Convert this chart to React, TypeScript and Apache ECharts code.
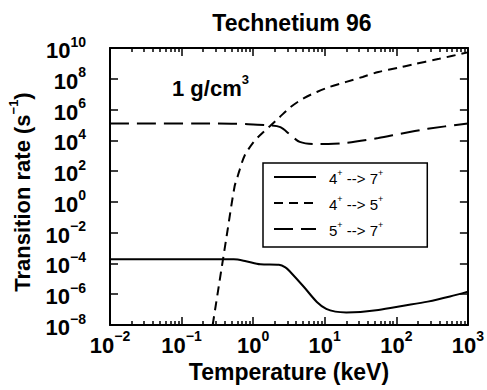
import React, { useEffect, useRef } from 'react';
import * as echarts from 'echarts';

const FONT = '"Liberation Sans", Arial, Helvetica, sans-serif';

// 4+ --> 7+ (solid)
const temp47 = [0.01, 0.537, 0.794, 1.26, 2.29, 2.82, 3.31, 5.13, 7.76, 10.5, 14.1, 20, 31.6, 56.2, 126, 275, 562, 1000];
const rate47 = [1.86e-4, 1.86e-4, 1.41e-4, 8.9e-5, 8.3e-5, 5.6e-5, 2.8e-5, 2.95e-6, 3.16e-7, 1.12e-7, 7.4e-8, 6.6e-8, 7.1e-8, 9.5e-8, 1.78e-7, 3.3e-7, 7.1e-7, 1.48e-6];

// 4+ --> 5+ (short dashes)
const temp45 = [0.272, 0.339, 0.427, 0.55, 0.603, 0.646, 0.759, 1.0, 1.29, 1.74, 2.34, 3.31, 5.13, 7.76, 11.7, 20, 33.9, 56.2, 107, 166, 398, 1000];
const rate45 = [1e-8, 6.8e-6, 6.3e-3, 10, 40, 117, 1.0e3, 7.1e3, 2.5e4, 8.9e4, 3.2e5, 1.41e6, 5.6e6, 1.38e7, 2.95e7, 6.3e7, 1.32e8, 2.75e8, 5.2e8, 8.3e8, 2.0e9, 5.2e9];

// 5+ --> 7+ (long dashes)
const temp57 = [0.01, 0.316, 0.851, 1.58, 2.4, 3.31, 4.47, 7.08, 11.2, 20, 56.2, 120, 275, 1000];
const rate57 = [1.26e5, 1.26e5, 1.12e5, 9.6e4, 7.2e4, 2.24e4, 7.9e3, 5.75e3, 5.75e3, 6.8e3, 1.41e4, 2.8e4, 5.6e4, 1.26e5];

const seriesNames = ['4+ --> 7+', '4+ --> 5+', '5+ --> 7+'];
const seriesDash: any[] = ['solid', [9, 6], [19, 8]];

const xDecades = [0.01, 0.1, 1, 10, 100, 1000];
const minorMultipliers = [2, 3, 4, 5, 6, 7, 8, 9];
const xMinor = xDecades.slice(0, -1).flatMap((d) => minorMultipliers.map((m) => m * d));

const titleText = 'Technetium 96';
const xName = 'Temperature (keV)';
const densityText = '1 g/cm';

const pair = (xs: number[], ys: number[]) => xs.map((x, i) => [x, ys[i]]);

const powLabel = (v: number) => {
  const e = Math.round(Math.log10(v));
  const s = e < 0 ? '\u2212' + -e : String(e);
  return `{b|10}{s|${s}}`;
};

const tickRich = {
  b: { fontFamily: FONT, fontSize: 22, fontWeight: 'bold', color: '#000', lineHeight: 27, verticalAlign: 'bottom' },
  s: { fontFamily: FONT, fontSize: 14, fontWeight: 'bold', color: '#000', lineHeight: 14, verticalAlign: 'top' },
};

const textRich = {
  b: { fontFamily: FONT, fontSize: 22, fontWeight: 'bold', color: '#000', lineHeight: 27, verticalAlign: 'bottom' },
  s: { fontFamily: FONT, fontSize: 13, fontWeight: 'bold', color: '#000', lineHeight: 13, verticalAlign: 'top' },
};

const legendLabel = (name: string) => {
  const parts = name.split('+');
  let out = '';
  parts.forEach((p, i) => {
    if (p.length) out += `{${i === 0 ? 'f' : 'n'}|${p}}`;
    if (i < parts.length - 1) out += '{s|+}';
  });
  return out;
};

const blk = '#000';
const axisLine = { show: true, lineStyle: { color: blk, width: 2 } };
const majorTick = { show: true, inside: true, length: 8, lineStyle: { color: blk, width: 1.5 } };
const minorTickStyle = { show: true, inside: true, length: 4, customValues: xMinor, lineStyle: { color: blk, width: 1.5 } };

const xBase = { type: 'log', logBase: 10, min: 0.01, max: 1000, interval: 1, gridIndex: 0, splitLine: { show: false } };
const yBase = { type: 'log', logBase: 10, min: 1e-8, max: 1e10, interval: 2, gridIndex: 0, splitLine: { show: false } };

const option: any = {
  animation: false,
  backgroundColor: '#fff',
  grid: { left: 110, right: 13, top: 48, bottom: 65 },
  xAxis: [
    {
      ...xBase,
      position: 'bottom',
      axisLine,
      axisTick: majorTick,
      axisLabel: { formatter: powLabel, margin: 4, rich: tickRich, hideOverlap: false },
      name: xName,
      nameLocation: 'middle',
      nameGap: 20,
      nameTextStyle: { fontFamily: FONT, fontSize: 23, fontWeight: 'bold', color: blk },
    },
    { ...xBase, position: 'bottom', axisLine: { show: false }, axisTick: minorTickStyle, axisLabel: { show: false } },
    { ...xBase, position: 'top', axisLine, axisTick: majorTick, axisLabel: { show: false } },
    { ...xBase, position: 'top', axisLine: { show: false }, axisTick: minorTickStyle, axisLabel: { show: false } },
  ],
  yAxis: [
    {
      ...yBase,
      position: 'left',
      axisLine,
      axisTick: majorTick,
      axisLabel: { formatter: powLabel, margin: 24, rich: tickRich, hideOverlap: false },
    },
    { ...yBase, position: 'right', axisLine, axisTick: majorTick, axisLabel: { show: false } },
  ],
  legend: {
    orient: 'vertical',
    left: 263,
    top: 163,
    data: seriesNames.map((name, i) => ({ name, lineStyle: { type: seriesDash[i], width: 2, color: blk } })),
    itemWidth: 42,
    itemHeight: 14,
    itemGap: 8,
    padding: [5, 44, 9, 10],
    borderColor: blk,
    borderWidth: 1.5,
    backgroundColor: '#fff',
    selectedMode: false,
    itemStyle: { color: 'transparent', borderWidth: 0, opacity: 0 },
    formatter: legendLabel,
    textStyle: {
      rich: {
        f: { fontFamily: FONT, fontSize: 15, color: blk, lineHeight: 18, verticalAlign: 'bottom', padding: [0, 0, 0, 8] },
        n: { fontFamily: FONT, fontSize: 15, color: blk, lineHeight: 18, verticalAlign: 'bottom' },
        s: { fontFamily: FONT, fontSize: 9, color: blk, lineHeight: 9, verticalAlign: 'top' },
      },
    },
  },
  graphic: [
    {
      type: 'text',
      x: 292,
      y: 23,
      style: { text: titleText, font: `bold 23px ${FONT}`, fill: blk, align: 'center', verticalAlign: 'middle' },
    },
    {
      type: 'text',
      x: 20,
      y: 192,
      rotation: Math.PI / 2,
      style: { text: '{b|Transition rate (s}{s|\u22121}{b|)}', rich: textRich, align: 'center', verticalAlign: 'middle' },
    },
    {
      type: 'text',
      x: 172,
      y: 86,
      style: { text: `{b|${densityText}}{s|3}`, rich: textRich, align: 'left', verticalAlign: 'middle' },
    },
  ],
  series: seriesNames.map((name, i) => ({
    name,
    type: 'line',
    data: [pair(temp47, rate47), pair(temp45, rate45), pair(temp57, rate57)][i],
    symbol: 'none',
    smooth: 0.3,
    lineStyle: { color: blk, width: 2, type: seriesDash[i] },
    itemStyle: { color: blk },
  })),
};

export default function App() {
  const ref = useRef<HTMLDivElement>(null);
  useEffect(() => {
    const chart = echarts.init(ref.current!, null, { renderer: 'svg' });
    chart.setOption(option);
    return () => chart.dispose();
  }, []);
  return <div ref={ref} style={{ position: 'absolute', left: 0, top: 0, width: 487, height: 390 }} />;
}
